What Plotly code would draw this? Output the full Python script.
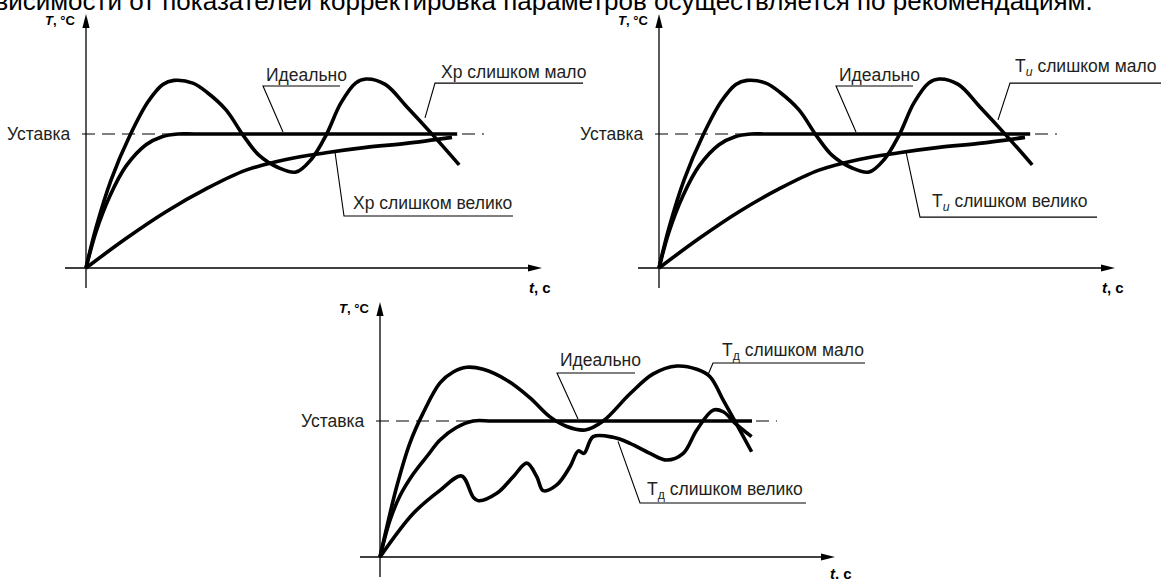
import plotly.graph_objects as go

# ---- values (t in arbitrary s, T as a fraction of the setpoint) ----
SETPOINT = 1.0

# top panels: Xp / Ti tuning
t_ideal = [0, 0.25, 0.6, 1.0, 1.5, 1.9, 2.3, 2.7, 4.0, 6.0, 8.0, 9.28]
T_ideal = [0, 0.27, 0.54, 0.76, 0.92, 0.98, 1.0, 1.0, 1.0, 1.0, 1.0, 1.0]

t_low = [0, 0.25, 0.63, 1.1, 1.55, 1.92, 2.2, 2.67, 3.03, 3.5, 3.93, 4.33, 4.8,
         5.25, 5.63, 6.0, 6.37, 6.74, 7.0, 7.48, 8.03, 8.68, 9.33]
T_low = [0, 0.30, 0.66, 0.99, 1.24, 1.37, 1.40, 1.38, 1.31, 1.18, 0.99, 0.84, 0.75,
         0.716, 0.81, 0.99, 1.23, 1.38, 1.41, 1.37, 1.2, 0.99, 0.77]

t_high = [0, 1.0, 2.0, 3.0, 4.0, 5.0, 6.0, 7.0, 8.0, 9.15]
T_high = [0, 0.22, 0.42, 0.59, 0.73, 0.81, 0.86, 0.90, 0.93, 0.975]

# bottom panel: Td tuning
t_ideal_d = [0, 0.25, 0.5, 0.83, 1.2, 1.5, 1.9, 2.33, 2.8, 4.0, 6.0, 8.0, 9.3]
T_ideal_d = [0, 0.27, 0.45, 0.61, 0.75, 0.86, 0.95, 1.0, 1.0, 1.0, 1.0, 1.0, 1.0]

t_low_d = [0, 0.42, 0.75, 1.08, 1.5, 1.83, 2.17, 2.58, 3.17, 3.75, 4.25, 4.67, 5.13,
           5.58, 6.25, 6.83, 7.42, 7.92, 8.25, 8.58, 8.88, 9.29]
T_low_d = [0, 0.52, 0.84, 1.06, 1.28, 1.36, 1.395, 1.38, 1.30, 1.17, 1.03, 0.96, 0.934,
           1.0, 1.2, 1.346, 1.404, 1.38, 1.326, 1.154, 0.995, 0.774]

t_high_d = [0, 0.83, 1.5, 2.04, 2.33, 2.46, 2.92, 3.33, 3.67, 3.92, 4.08, 4.42, 4.75,
            4.96, 5.1, 5.33, 5.83, 6.25, 6.75, 7.17, 7.58, 7.92, 8.33, 8.58, 8.88, 9.29]
T_high_d = [0, 0.32, 0.49, 0.596, 0.44, 0.414, 0.468, 0.59, 0.69, 0.59, 0.488, 0.53, 0.664,
            0.78, 0.762, 0.885, 0.88, 0.836, 0.762, 0.713, 0.762, 0.934, 1.08, 1.068, 0.983, 0.885]

param_names = ["Хр", "T<sub><i>и</i></sub>", "T<sub>д</sub>"]

# ---- page geometry ----
W, H = 1161, 579
SX = 40.0  # px per time unit
LABEL_FONT = dict(family="Liberation Sans, Arial, sans-serif", size=17.5, color="#231f20")
AX_FONT = dict(family="Liberation Sans, Arial, sans-serif", size=13, color="#000")

# pixel box (x0, x1, y0, y1), origin px, vertical px per unit
panels = [
    dict(box=(0, 600, 0, 300), origin=(86, 268), sy=134.0),
    dict(box=(573, 1161, 0, 300), origin=(659, 268), sy=134.0),
    dict(box=(290, 900, 290, 579), origin=(380, 557), sy=136.0),
]

# label layout per panel: (text x, text y, leader path points)
labels = [
    dict(ideal=(4.45, 1.44, [(4.925, 1.015), (4.425, 1.358), (6.35, 1.358)]),
         low=(8.82, 1.463, [(8.475, 1.12), (8.725, 1.38), (12.425, 1.38)]),
         high=(6.62, 0.485, [(6.225, 0.866), (6.45, 0.388), (10.675, 0.388)]),
         tlabel=(11.35, -0.149), ytop=1.896, ybot=-0.15, xleft=-0.525, xtip=11.4, dash_end=9.95),
    dict(ideal=(4.45, 1.44, [(4.925, 1.015), (4.425, 1.358), (6.35, 1.358)]),
         low=(8.85, 1.5, [(8.475, 1.105), (8.775, 1.38), (12.6, 1.38)]),
         high=(6.775, 0.49, [(6.175, 0.866), (6.525, 0.38), (10.95, 0.38)]),
         tlabel=(11.35, -0.149), ytop=1.896, ybot=-0.15, xleft=-0.525, xtip=11.4, dash_end=9.95),
    dict(ideal=(4.45, 1.449, [(4.95, 1.015), (4.425, 1.353), (6.375, 1.353)]),
         low=(8.5, 1.51, [(8.2, 1.34), (8.325, 1.426), (12.125, 1.426)]),
         high=(6.625, 0.49, [(5.95, 0.85), (6.5, 0.397), (10.65, 0.397)]),
         tlabel=(11.525, -0.118), ytop=1.875, ybot=-0.147, xleft=-0.5, xtip=11.375, dash_end=9.925),
]

series = [
    (t_ideal, T_ideal, t_low, T_low, t_high, T_high),
    (t_ideal, T_ideal, t_low, T_low, t_high, T_high),
    (t_ideal_d, T_ideal_d, t_low_d, T_low_d, t_high_d, T_high_d),
]

fig = go.Figure()
shapes, annotations = [], []
LINE = dict(color="#000", width=3.6, shape="spline", smoothing=1.0)

for i, (p, lab, data, pname) in enumerate(zip(panels, labels, series, param_names)):
    n = i + 1
    sfx = "" if n == 1 else str(n)
    xr, yr = f"x{sfx}", f"y{sfx}"
    x0, x1, y0, y1 = p["box"]
    ox, oy = p["origin"]
    sy = p["sy"]
    fig.update_layout(**{
        f"xaxis{sfx}": dict(domain=[x0 / W, x1 / W], range=[(x0 - ox) / SX, (x1 - ox) / SX],
                            visible=False, anchor=yr),
        f"yaxis{sfx}": dict(domain=[1 - y1 / H, 1 - y0 / H], range=[(oy - y1) / sy, (oy - y0) / sy],
                            visible=False, anchor=xr),
    })

    # setpoint
    fig.add_trace(go.Scatter(x=[-0.1, lab["dash_end"]], y=[SETPOINT, SETPOINT], mode="lines",
                             line=dict(color="#000", width=1.1, dash="13px,7px"),
                             xaxis=xr, yaxis=yr, showlegend=False, hoverinfo="skip"))
    ti, Ti, tl, Tl, th, Th = data
    for tx, ty, nm in [(th, Th, "слишком велико"), (ti, Ti, "Идеально"), (tl, Tl, "слишком мало")]:
        fig.add_trace(go.Scatter(x=tx, y=ty, mode="lines", line=LINE, name=nm,
                                 xaxis=xr, yaxis=yr, showlegend=False))

    # axes with arrows
    shapes.append(dict(type="line", xref=xr, yref=yr, x0=0, x1=0, y0=lab["ybot"], y1=lab["ytop"] - 0.05,
                       line=dict(color="#000", width=1.3)))
    shapes.append(dict(type="line", xref=xr, yref=yr, x0=lab["xleft"], x1=lab["xtip"] - 0.2, y0=0, y1=0,
                       line=dict(color="#000", width=1.3)))
    shapes.append(dict(type="path", xref=xr, yref=yr, xsizemode="pixel", ysizemode="pixel",
                       xanchor=0, yanchor=lab["ytop"], path="M0,0 L-3.6,-14 L3.6,-14 Z",
                       fillcolor="#000", line=dict(width=0)))
    shapes.append(dict(type="path", xref=xr, yref=yr, xsizemode="pixel", ysizemode="pixel",
                       xanchor=lab["xtip"], yanchor=0, path="M0,0 L-14,-3.6 L-14,3.6 Z",
                       fillcolor="#000", line=dict(width=0)))

    # axis titles
    annotations.append(dict(xref=xr, yref=yr, x=-0.22, y=lab["ytop"] - 0.05, xanchor="right", yanchor="middle",
                            text="<b><i>T</i>, °C</b>", showarrow=False, font=AX_FONT))
    annotations.append(dict(xref=xr, yref=yr, x=lab["tlabel"][0], y=lab["tlabel"][1], xanchor="center",
                            yanchor="middle", text="<b><i>t</i>, c</b>", showarrow=False,
                            font=dict(AX_FONT, size=15)))
    annotations.append(dict(xref=xr, yref=yr, x=-0.32, y=SETPOINT, xanchor="right", yanchor="middle",
                            text="Уставка", showarrow=False, font=LABEL_FONT))

    # curve labels with leaders
    for key, txt in [("ideal", "Идеально"), ("low", pname + " слишком мало"), ("high", pname + " слишком велико")]:
        tx, ty, pts = lab[key]
        annotations.append(dict(xref=xr, yref=yr, x=tx, y=ty, xanchor="left", yanchor="middle",
                                text=txt, showarrow=False, font=LABEL_FONT))
        path = "M" + " L".join(f"{a},{b}" for a, b in pts)
        shapes.append(dict(type="path", xref=xr, yref=yr, path=path, line=dict(color="#000", width=1.1)))

# page text cut at the top edge
annotations.append(dict(xref="paper", yref="paper", x=-34 / W, y=1 - 0.5 / H, xanchor="left", yanchor="middle",
                        text="зависимости от показателей корректировка параметров осуществляется по рекомендациям.",
                        showarrow=False, font=dict(family="Liberation Sans, Arial, sans-serif", size=26, color="#000")))

fig.update_layout(width=W, height=H, margin=dict(l=0, r=0, t=0, b=0),
                  paper_bgcolor="white", plot_bgcolor="rgba(0,0,0,0)",
                  shapes=shapes, annotations=annotations, showlegend=False)
fig.write_html("out.html", config={"displayModeBar": False},
               post_script="document.body.style.margin='0';")
